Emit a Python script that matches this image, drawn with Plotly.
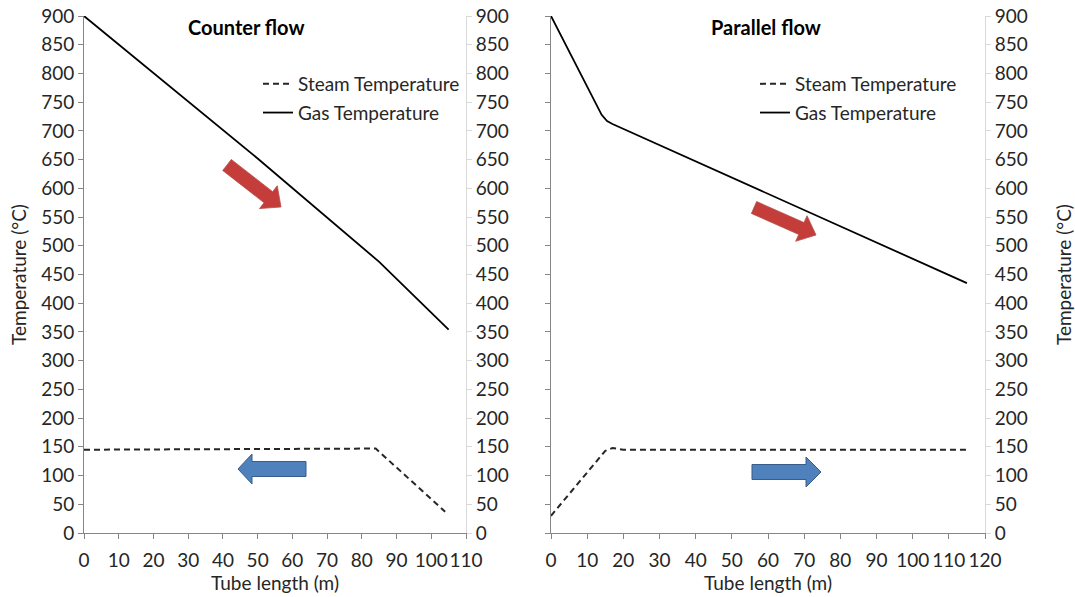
import math
import plotly.graph_objects as go

W, H = 1075, 597

# ---------------- data ----------------
counter_gas_x = [0, 50, 85, 105]
counter_gas_y = [900, 652, 472, 354]
counter_steam_x = [0, 84, 104]
counter_steam_y = [145, 147, 37]

parallel_gas_x = [0, 14, 15.5, 17, 115]
parallel_gas_y = [900, 728, 717, 712, 435]
parallel_steam_x = [0, 15, 17, 20, 115]
parallel_steam_y = [30, 143, 148, 145, 145]

y_ticks = list(range(0, 901, 50))
x_ticks_left = list(range(0, 111, 10))
x_ticks_right = list(range(0, 121, 10))

FONT = "Lato"
TXT = "#262626"
AX_MAIN = "#868686"
AX_LIGHT = "#D9D9D9"
FS = 19

fig = go.Figure()

steam_style = dict(color="#262626", width=2, dash="6px,4px")
gas_style = dict(color="#000000", width=1.8)

fig.add_trace(go.Scatter(x=counter_steam_x, y=counter_steam_y, mode="lines", name="Steam Temperature",
                         line=steam_style, xaxis="x", yaxis="y", legend="legend", legendgroup="s"))
fig.add_trace(go.Scatter(x=counter_gas_x, y=counter_gas_y, mode="lines", name="Gas Temperature",
                         line=gas_style, xaxis="x", yaxis="y", legend="legend", legendgroup="g"))
fig.add_trace(go.Scatter(x=parallel_steam_x, y=parallel_steam_y, mode="lines", name="Steam Temperature",
                         line=steam_style, xaxis="x2", yaxis="y2", legend="legend2", legendgroup="s2"))
fig.add_trace(go.Scatter(x=parallel_gas_x, y=parallel_gas_y, mode="lines", name="Gas Temperature",
                         line=gas_style, xaxis="x2", yaxis="y2", legend="legend2", legendgroup="g2"))
# helper traces so that the secondary (right) axes are drawn
fig.add_trace(go.Scatter(x=[0], y=[0], mode="markers", marker=dict(opacity=0), showlegend=False,
                         hoverinfo="skip", xaxis="x", yaxis="y3"))
fig.add_trace(go.Scatter(x=[0], y=[0], mode="markers", marker=dict(opacity=0), showlegend=False,
                         hoverinfo="skip", xaxis="x2", yaxis="y4"))

# pixel geometry of the plot areas
L0, L1 = 84, 466
R0, R1 = 551, 985
T, B = 16, 533


def px(x):
    return x / W


def py(y):
    return 1 - y / H


tickfont = dict(family=FONT, size=FS, color=TXT)
titlefont = dict(family=FONT, size=FS, color=TXT)


def xax(dom, rng, ticks):
    return dict(domain=[px(dom[0]), px(dom[1])], range=rng, tickvals=ticks, ticks="outside",
                ticklen=5, tickcolor=AX_MAIN, showline=True, linecolor=AX_MAIN, linewidth=1,
                showgrid=False, zeroline=False, tickfont=tickfont, fixedrange=True, automargin=False,
                tickangle=0, ticklabelstandoff=5,
                title=dict(text="Tube length (m)", font=titlefont, standoff=4))


def yax(**kw):
    d = dict(domain=[py(B), py(T)], range=[0, 900], tickvals=y_ticks, ticks="outside", ticklen=5,
             showline=True, linewidth=1, showgrid=False, zeroline=False, tickfont=tickfont,
             fixedrange=True, automargin=False)
    d.update(kw)
    return d


fig.update_layout(
    width=W, height=H,
    margin=dict(l=0, r=0, t=0, b=0, autoexpand=False),
    paper_bgcolor="white", plot_bgcolor="white",
    font=dict(family=FONT, size=FS, color=TXT),
    showlegend=True,
    xaxis=xax((L0, L1), [0, 110], x_ticks_left) | dict(anchor="y"),
    xaxis2=xax((R0, R1), [0, 120], x_ticks_right) | dict(anchor="y2"),
    yaxis=yax(anchor="x", side="left", linecolor=AX_MAIN, tickcolor=AX_MAIN,
              title=dict(text="Temperature (°C)", font=titlefont, standoff=9)),
    yaxis3=yax(anchor="x", overlaying="y", side="right", linecolor=AX_LIGHT, tickcolor=AX_LIGHT),
    yaxis2=yax(anchor="x2", side="left", linecolor=AX_MAIN, tickcolor=AX_MAIN, showticklabels=False),
    yaxis4=yax(anchor="x2", overlaying="y2", side="right", linecolor=AX_LIGHT, tickcolor=AX_LIGHT,
               title=dict(text="Temperature (°C)", font=titlefont, standoff=30)),
    legend=dict(x=px(258), y=py(65), xanchor="left", yanchor="top", bgcolor="rgba(0,0,0,0)",
                font=dict(family=FONT, size=FS, color=TXT), tracegroupgap=1, itemwidth=30),
    legend2=dict(x=px(755), y=py(65), xanchor="left", yanchor="top", bgcolor="rgba(0,0,0,0)",
                 font=dict(family=FONT, size=FS, color=TXT), tracegroupgap=1, itemwidth=30),
)

fig.add_annotation(x=px(246), y=py(27), xref="paper", yref="paper", text="<b>Counter flow</b>",
                   xanchor="center", yanchor="middle", showarrow=False,
                   font=dict(family=FONT, size=20, color="#000"))
fig.add_annotation(x=px(766), y=py(27), xref="paper", yref="paper", text="<b>Parallel flow</b>",
                   xanchor="center", yanchor="middle", showarrow=False,
                   font=dict(family=FONT, size=20, color="#000"))


# block arrows (decoration), defined in pixel space
def arrow_path(tail, tip, body_w, head_w, head_len):
    tx, ty = tail
    hx, hy = tip
    dx, dy = hx - tx, hy - ty
    L = math.hypot(dx, dy)
    ux, uy = dx / L, dy / L
    nx, ny = -uy, ux
    bx, by = hx - ux * head_len, hy - uy * head_len
    pts = [
        (tx + nx * body_w / 2, ty + ny * body_w / 2),
        (bx + nx * body_w / 2, by + ny * body_w / 2),
        (bx + nx * head_w / 2, by + ny * head_w / 2),
        (hx, hy),
        (bx - nx * head_w / 2, by - ny * head_w / 2),
        (bx - nx * body_w / 2, by - ny * body_w / 2),
        (tx - nx * body_w / 2, ty - ny * body_w / 2),
    ]
    return "M " + " L ".join(f"{px(a):.5f},{py(b):.5f}" for a, b in pts) + " Z"


red = dict(fillcolor="#C43D3A", line=dict(color="#B5504D", width=0.8))
blue = dict(fillcolor="#4F81BD", line=dict(color="#385D8A", width=1))

fig.add_shape(type="path", xref="paper", yref="paper", path=arrow_path((227, 165), (281, 207), 14, 29, 16), **red)
fig.add_shape(type="path", xref="paper", yref="paper", path=arrow_path((754, 207.5), (816, 235), 13, 28, 16), **red)
fig.add_shape(type="path", xref="paper", yref="paper", path=arrow_path((306, 469), (238, 469), 15, 30, 14), **blue)
fig.add_shape(type="path", xref="paper", yref="paper", path=arrow_path((752, 472), (821, 472), 15, 30, 15), **blue)

fig.write_html("out.html")
